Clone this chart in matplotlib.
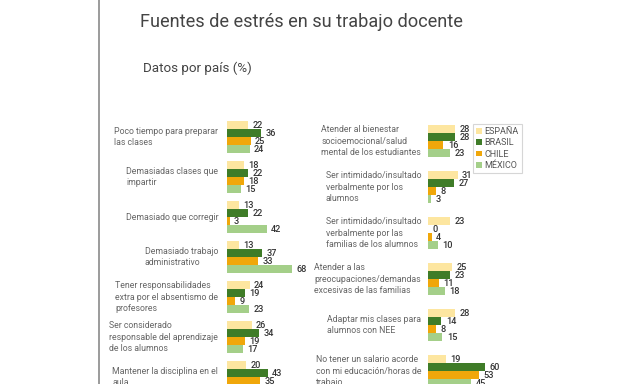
import numpy as np
import matplotlib.pyplot as plt
from matplotlib.patches import Patch
from matplotlib.lines import Line2D
import matplotlib.transforms as mtransforms

# data
series = ["ESPAÑA", "BRASIL", "CHILE", "MÉXICO"]
colors = ["#fde6a0", "#3f7c28", "#f0a70a", "#a4cf89"]

left_labels = [
    "Poco tiempo para preparar\nlas clases",
    "Demasiadas clases que\nimpartir",
    "Demasiado que corregir",
    "Demasiado trabajo\nadministrativo",
    "Tener responsabilidades\nextra por el absentismo de\nprofesores",
    "Ser considerado\nresponsable del aprendizaje\nde los alumnos",
    "Mantener la disciplina en el\naula",
]
left_espana = [22, 18, 13, 13, 24, 26, 20]
left_brasil = [36, 22, 22, 37, 19, 34, 43]
left_chile = [25, 18, 3, 33, 9, 19, 35]
left_mexico = [24, 15, 42, 68, 23, 17, 30]

right_labels = [
    "Atender al bienestar\nsocioemocional/salud\nmental de los estudiantes",
    "Ser intimidado/insultado\nverbalmente por los\nalumnos",
    "Ser intimidado/insultado\nverbalmente por las\nfamilias de los alumnos",
    "Atender a las\npreocupaciones/demandas\nexcesivas de las familias",
    "Adaptar mis clases para\nalumnos con NEE",
    "No tener un salario acorde\ncon mi educación/horas de\ntrabajo",
]
right_espana = [28, 31, 23, 25, 28, 19]
right_brasil = [28, 27, 0, 23, 14, 60]
right_chile = [16, 8, 4, 11, 8, 53]
right_mexico = [23, 3, 10, 18, 15, 45]

W, H = 640, 384
fig = plt.figure(figsize=(6.4, 3.84), dpi=100)
fig.patch.set_facecolor("white")

PX_UNIT = 8.0      # vertical pixels per bar slot
XSCALE = 0.956     # pixels per percentage point


def make_axes(x0, y_first, ymax):
    # y_first: pixel (from top) of first bar centre
    top = y_first - PX_UNIT
    height = (ymax + 1) * PX_UNIT
    ax = fig.add_axes([x0 / W, 1 - (top + height) / H, 100 / W, height / H])
    ax.set_xlim(0, 100 / XSCALE)
    ax.set_ylim(ymax, -1)
    ax.axis("off")
    return ax


def draw_panel(ax, labels, values, pitch, label_off):
    trans = mtransforms.blended_transform_factory(ax.transAxes, ax.transData)
    for i, lab in enumerate(labels):
        base = i * pitch
        for j, vals in enumerate(values):
            y = base + j
            ax.barh(y, vals[i], height=0.9, color=colors[j], linewidth=0)
            ax.annotate(str(vals[i]), (vals[i], y), xytext=(3.2, 0),
                        textcoords="offset points", va="center", ha="left",
                        fontsize=6.6, color="#333333", family="Roboto",
                        fontweight="medium")
        ax.text(-label_off / 100, base + 1.5, lab, transform=trans,
                ha="right", va="center", multialignment="left",
                fontsize=6.3, color="#666666", family="Roboto",
                linespacing=1.3)


ax_l = make_axes(226.7, 125, 35)
draw_panel(ax_l, left_labels,
           [left_espana, left_brasil, left_chile, left_mexico], 5, 8.5)

ax_r = make_axes(428, 129, 33)
draw_panel(ax_r, right_labels,
           [right_espana, right_brasil, right_chile, right_mexico], 5.75, 7)

handles = [Patch(facecolor=c, label=s) for c, s in zip(colors, series)]
leg = fig.legend(handles=handles, loc="upper left",
                 bbox_to_anchor=(473 / W, 1 - 124 / H), borderaxespad=0,
                 frameon=True, fancybox=False,
                 handlelength=0.6, handleheight=0.6, handletextpad=0.3,
                 labelspacing=0.25, borderpad=0.35,
                 prop={"family": "Roboto", "size": 6.5})
leg.get_frame().set_edgecolor("#cccccc")
leg.get_frame().set_linewidth(0.8)
for t in leg.get_texts():
    t.set_color("#555555")

# title and subtitle
fig.text(140 / W, 1 - 27 / H, "Fuentes de estrés en su trabajo docente",
         ha="left", va="baseline", fontsize=13.1, color="#444444",
         family="Roboto")
fig.text(143 / W, 1 - 72 / H, "Datos por país (%)", ha="left",
         va="baseline", fontsize=9.6, color="#444444", family="Roboto")

# page edge line on the left
fig.add_artist(Line2D([98.5 / W, 98.5 / W], [0, 1], color="#8a8a8a",
                      linewidth=1.2, transform=fig.transFigure))

fig.savefig("out.png", dpi=100, facecolor="white")
